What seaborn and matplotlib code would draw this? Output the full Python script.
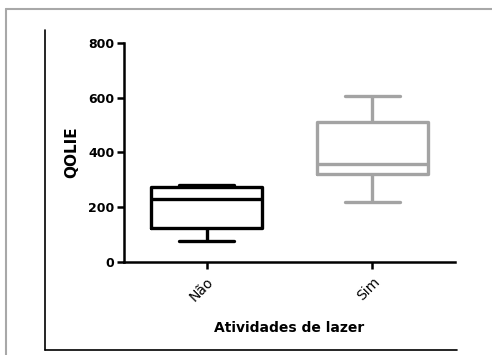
import numpy as np
import pandas as pd
import matplotlib
matplotlib.use("Agg")
import matplotlib.pyplot as plt
from matplotlib.lines import Line2D
import seaborn as sns

# five-number summaries (min, q1, median, q3, max)
grupos = ["Não", "Sim"]
qolie_nao = [77, 124, 230, 274, 281]
qolie_sim = [219, 321, 358, 511, 606]

df = pd.DataFrame({
    "grupo": ["Não"] * len(qolie_nao) + ["Sim"] * len(qolie_sim),
    "QOLIE": qolie_nao + qolie_sim,
})

sns.set_style("ticks", {"axes.edgecolor": "black", "text.color": "black",
                        "axes.labelcolor": "black", "xtick.color": "black",
                        "ytick.color": "black"})
plt.rcParams["font.family"] = ["DejaVu Sans"]

fig = plt.figure(figsize=(4.92, 3.55), dpi=100)
ax = fig.add_axes([0.252, 0.262, 0.673, 0.617])

cores = {"Não": "black", "Sim": "#a3a3a3"}
sns.boxplot(
    data=df, x="grupo", y="QOLIE", hue="grupo", order=grupos,
    palette=cores, fill=False, width=0.67, whis=np.inf,
    linewidth=2.4, legend=False, ax=ax,
)

ax.set_xlim(-0.5, 1.5)
ax.set_ylim(0, 800)
ax.set_yticks([0, 200, 400, 600, 800])
ax.set_ylabel("QOLIE", fontsize=11, fontweight="bold", labelpad=6)
ax.set_xlabel("Atividades de lazer", fontsize=10, fontweight="bold", labelpad=12)

for lab in ax.get_yticklabels():
    lab.set_fontweight("bold")
    lab.set_fontsize(9)
plt.setp(ax.get_xticklabels(), rotation=45, ha="right", rotation_mode="anchor", fontsize=10)

ax.tick_params(axis="both", direction="out", length=5, width=1.8, pad=2, colors="black")
ax.tick_params(axis="x", pad=4)
for s in ["top", "right"]:
    ax.spines[s].set_visible(False)
for s in ["left", "bottom"]:
    ax.spines[s].set_linewidth(1.8)
    ax.spines[s].set_color("black")

# gray outer border and black frame lines
fig.add_artist(Line2D([6 / 492, 1], [1 - 9 / 355, 1 - 9 / 355], color="#a8a8a8", lw=1.5))
fig.add_artist(Line2D([6 / 492, 6 / 492], [0, 1 - 9 / 355], color="#a8a8a8", lw=1.5))
fig.add_artist(Line2D([45 / 492, 45 / 492], [1 - 350 / 355, 1 - 30 / 355], color="black", lw=1.2))
fig.add_artist(Line2D([45 / 492, 457 / 492], [1 - 350 / 355, 1 - 350 / 355], color="black", lw=1.2))

fig.savefig("out.png", dpi=100)
